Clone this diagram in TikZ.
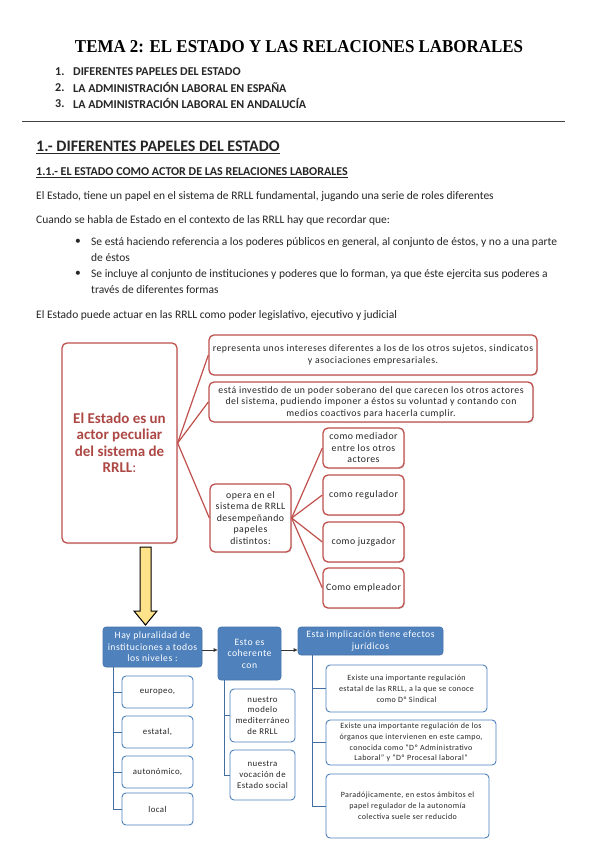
\documentclass[tikz,border=0pt]{standalone}
\usepackage{fontspec}
\setmainfont{Carlito}
\newfontfamily\titlefont{Liberation Serif}
\newfontfamily\boxfont{Carlito}[LetterSpace=5]
\usetikzlibrary{shadows,arrows.meta}
\definecolor{redc}{HTML}{C0504D}
\definecolor{bluec}{HTML}{4F81BD}
\definecolor{yel}{HTML}{FFE38A}
\definecolor{txt}{HTML}{262626}
\begin{document}
\begin{tikzpicture}[x=1pt,y=-1pt,
  plain/.style={anchor=west, inner sep=0pt, font=\fontsize{11.5}{13}\selectfont, text=txt},
  listitem/.style={anchor=west, inner sep=0pt, font=\bfseries\fontsize{12}{14}\selectfont, text=txt},
  redbox/.style={draw=redc, line width=1.3pt, rounded corners=5pt, fill=white, align=center, inner sep=1pt,
    font=\boxfont\fontsize{9.8}{11.5}\selectfont, text=txt,
    drop shadow={opacity=0.25, shadow xshift=1pt, shadow yshift=-1pt}},
  redline/.style={draw=redc, line width=1.2pt},
  bluebox/.style={fill=bluec, draw=bluec!90!black, line width=0.6pt, rounded corners=3pt, align=center, inner sep=1pt,
    text=white, font=\boxfont\fontsize{9.7}{11.5}\selectfont},
  bluechild/.style={draw=bluec, line width=0.9pt, rounded corners=4pt, fill=white, align=center, inner sep=1pt,
    font=\boxfont\fontsize{8.8}{10.8}\selectfont, text=txt},
  widechild/.style={bluechild, font=\boxfont\fontsize{8}{10.8}\selectfont},
  blueline/.style={draw=bluec!85!black, line width=0.8pt},
  blarrow/.style={draw=black!80, line width=0.6pt, -{Latex[length=4pt,width=4pt]}}
]
\useasboundingbox[fill=white] (0,0) rectangle (599,848);

% Title and index
\node[inner sep=0pt] (title) at (299,47) {\resizebox{448pt}{12pt}{\titlefont\bfseries TEMA 2: EL ESTADO Y LAS RELACIONES LABORALES}};
\node[listitem] (n1) at (55,72) {1.};
\node[listitem] (l1) at (73,72) {DIFERENTES PAPELES DEL ESTADO};
\node[listitem] (n2) at (55,88) {2.};
\node[listitem] (l2) at (73,88) {LA ADMINISTRACIÓN LABORAL EN ESPAÑA};
\node[listitem] (n3) at (55,104) {3.};
\node[listitem] (l3) at (73,104) {LA ADMINISTRACIÓN LABORAL EN ANDALUCÍA};
\coordinate (ruleL) at (22,121);
\coordinate (ruleR) at (565,121);
\draw[line width=0.7pt, draw=black!75] (ruleL) -- (ruleR);

% Headings
\node[anchor=west, inner sep=0pt, font=\bfseries\fontsize{16}{18}\selectfont, text=txt] (h1) at (36,147) {\underline{1.- DIFERENTES PAPELES DEL ESTADO}};
\node[anchor=west, inner sep=0pt, font=\bfseries\fontsize{12}{14}\selectfont, text=txt] (h2) at (36,173) {\underline{1.1.- EL ESTADO COMO ACTOR DE LAS RELACIONES LABORALES}};

% Paragraphs
\node[plain] (p1) at (36,196) {El Estado, tiene un papel en el sistema de RRLL fundamental, jugando una serie de roles diferentes};
\node[plain] (p2) at (36,220) {Cuando se habla de Estado en el contexto de las RRLL hay que recordar que:};
\node[plain] (b1) at (75,242) {•};
\node[plain] (p3) at (91,242) {Se está haciendo referencia a los poderes públicos en general, al conjunto de éstos, y no a una parte};
\node[plain] (p3b) at (91,258) {de éstos};
\node[plain] (b2) at (75,274) {•};
\node[plain] (p4) at (91,274) {Se incluye al conjunto de instituciones y poderes que lo forman, ya que éste ejercita sus poderes a};
\node[plain] (p4b) at (91,290) {través de diferentes formas};
\node[plain] (p5) at (36,315) {El Estado puede actuar en las RRLL como poder legislativo, ejecutivo y judicial};

% Red diagram
\node[redbox, minimum width=115pt, minimum height=200pt, text=redc!90!black,
  font=\bfseries\fontsize{15}{16.5}\selectfont] (big) at (119.5,443)
  {El Estado es un\\actor peculiar\\del sistema de\\RRLL\textmd{:}};
\node[redbox, minimum width=328pt, minimum height=40pt] (r1) at (373,355)
  {representa unos intereses diferentes a los de los otros sujetos, sindicatos\\y asociaciones empresariales.};
\node[redbox, minimum width=324pt, minimum height=40pt] (r2) at (371,402)
  {está investido de un poder soberano del que carecen los otros actores\\del sistema, pudiendo imponer a éstos su voluntad y contando con\\medios coactivos para hacerla cumplir.};
\node[redbox, minimum width=81pt, minimum height=68pt] (op) at (250.5,518)
  {opera en el\\sistema de RRLL\\desempeñando\\papeles\\distintos:};
\node[redbox, minimum width=81pt, minimum height=40pt] (m1) at (363.5,448) {como mediador\\entre los otros\\actores};
\node[redbox, minimum width=81pt, minimum height=40pt] (m2) at (363.5,495) {como regulador};
\node[redbox, minimum width=81pt, minimum height=40pt] (m3) at (363.5,542) {como juzgador};
\node[redbox, minimum width=81pt, minimum height=40pt] (m4) at (363.5,588) {Como empleador};
\draw[redline] (big.east) -- (r1.west);
\draw[redline] (big.east) -- (r2.west);
\draw[redline] (big.east) -- (op.west);
\foreach \m in {m1,m2,m3,m4} \draw[redline] (op.east) -- (\m.west);

% Yellow arrow
\draw[fill=yel, draw=black, line width=1pt, line join=miter]
  (140,547) -- (151,547) -- (151,611) -- (157,611) -- (145.5,625) -- (134,611) -- (140,611) -- cycle;

% Blue diagram
\node[bluebox, minimum width=99pt, minimum height=40pt] (B1) at (152.5,647) {Hay pluralidad de\\instituciones a todos\\los niveles :};
\node[bluebox, minimum width=63pt, minimum height=53pt] (B2) at (249.5,653.5) {Esto es\\coherente\\con};
\node[bluebox, minimum width=145pt, minimum height=28pt] (B3) at (370.5,641) {Esta implicación tiene efectos\\jurídicos};
\draw[blarrow] ([yshift=-3pt]B1.east) -- ([yshift=-3pt]B1.east -| B2.west);
\draw[blarrow] ([yshift=3.5pt]B2.east) -- ([yshift=3.5pt]B2.east -| B3.west);

\node[bluechild, minimum width=71pt, minimum height=32pt] (c1) at (157.5,692) {europeo,};
\node[bluechild, minimum width=71pt, minimum height=32pt] (c2) at (157.5,732) {estatal,};
\node[bluechild, minimum width=71pt, minimum height=32pt] (c3) at (157.5,772) {autonómico,};
\node[bluechild, minimum width=71pt, minimum height=32pt] (c4) at (157.5,809) {local};
\coordinate (v1) at (113,667);
\foreach \c in {c1,c2,c3,c4} \draw[blueline] (v1) |- (\c.west);

\node[bluechild, minimum width=65pt, minimum height=53pt] (d1) at (262.5,715.5) {nuestro\\modelo\\mediterráneo\\de RRLL};
\node[bluechild, minimum width=65pt, minimum height=50pt] (d2) at (262.5,775) {nuestra\\vocación de\\Estado social};
\coordinate (v2) at (224,680);
\foreach \d in {d1,d2} \draw[blueline] (v2) |- (\d.west);

\node[widechild, minimum width=161pt, minimum height=47pt] (e1) at (406.5,688.5) {Existe una importante regulación\\estatal de las RRLL, a la que se conoce\\como Dº Sindical};
\node[widechild, minimum width=170pt, minimum height=45pt] (e2) at (411,742.5) {Existe una importante regulación de los\\órganos que intervienen en este campo,\\conocida como “Dº Administrativo\\Laboral” y “Dº Procesal laboral”};
\node[widechild, minimum width=163pt, minimum height=64pt] (e3) at (407.5,806) {Paradójicamente, en estos ámbitos el\\papel regulador de la autonomía\\colectiva suele ser reducido};
\coordinate (v3) at (312,655);
\foreach \e in {e1,e2,e3} \draw[blueline] (v3) |- (\e.west);
\end{tikzpicture}
\end{document}
